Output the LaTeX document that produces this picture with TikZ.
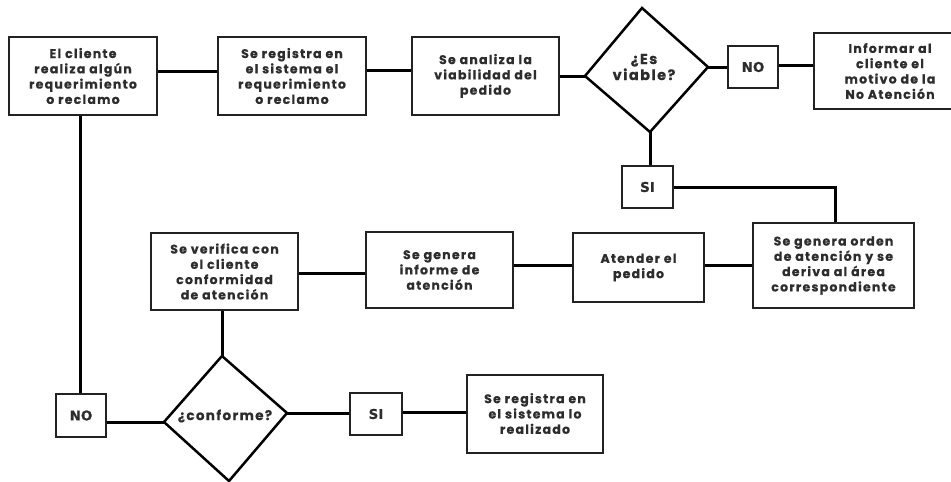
\documentclass[tikz,border=0pt]{standalone}
\usepackage{fontspec}
\newfontfamily\lblfont[LetterSpace=10, BoldFeatures={FakeBold=0.5}]{Poppins}
\newfontfamily\tagfont[BoldFeatures={FakeBold=0.5}]{DejaVu Sans}
\definecolor{ink}{HTML}{222222}
\definecolor{txt}{HTML}{2d2d2d}
\tikzset{
  box/.style={draw=ink, line width=2pt, fill=white, align=center, inner sep=0pt, text=txt,
    font=\lblfont\bfseries\fontsize{12.5}{15.3}\selectfont},
  tagbox/.style={draw=ink, line width=1.6pt, fill=white, inner sep=0pt, text=txt,
    minimum width=50pt, minimum height=42pt, font=\tagfont\bfseries\fontsize{13.5}{15}\selectfont},
  dtext/.style={align=center, inner sep=0pt, text=txt, font=\lblfont\bfseries\fontsize{13.5}{16}\selectfont},
  diab/.style={draw=black, line width=2.5pt, line join=miter},
  conn/.style={draw=black, line width=3pt}
}
\begin{document}
\begin{tikzpicture}[x=1pt,y=-1pt]
\clip (0,0) rectangle (951,482);
\fill[white] (0,0) rectangle (951,482);
% top row
\node[box, minimum width=148pt, minimum height=78pt] (c1) at (83,76) {El cliente\\realiza algún\\requerimiento\\o reclamo};
\node[box, minimum width=148pt, minimum height=78pt] (c2) at (292,76) {Se registra en\\el sistema el\\requerimiento\\o reclamo};
\node[box, minimum width=147pt, minimum height=78pt] (c3) at (485.5,76) {Se analiza la\\viabilidad del\\pedido};
% diamond 1
\coordinate (d1w) at (585,76);
\coordinate (d1n) at (642,8);
\coordinate (d1e) at (708,67);
\coordinate (d1s) at (650,132);
\draw[diab] (d1w) -- (d1n) -- (d1e) -- (d1s) -- cycle;
\node[dtext, font=\lblfont\bfseries\fontsize{14.5}{16}\selectfont] (d1) at (644,67) {¿Es\\viable?};
\node[tagbox] (no1) at (753,67) {NO};
\node[box, minimum width=152pt, minimum height=76pt] (inf) at (890,71) {Informar al\\cliente el\\motivo de la\\No Atención};
\node[tagbox, minimum width=51pt] (si1) at (647.5,187) {SI};
% middle row
\node[box, minimum width=161pt, minimum height=85pt] (orden) at (833.5,265.5) {Se genera orden\\de atención y se\\deriva al área\\correspondiente};
\node[box, minimum width=131pt, minimum height=69pt] (aten) at (638.5,267.5) {Atender el\\pedido};
\node[box, minimum width=147pt, minimum height=76pt] (inform) at (439.5,270) {Se genera\\informe de\\atención};
\node[box, minimum width=147pt, minimum height=77pt] (verif) at (224.5,271.5) {Se verifica con\\el cliente\\conformidad\\de atención};
% bottom row
\coordinate (d2w) at (164,422);
\coordinate (d2n) at (222,356);
\coordinate (d2e) at (287,413);
\coordinate (d2s) at (229,481);
\draw[diab] (d2w) -- (d2n) -- (d2e) -- (d2s) -- cycle;
\node[dtext] (d2) at (225,416) {¿conforme?};
\node[tagbox, minimum height=43pt] (no2) at (81,415.5) {NO};
\node[tagbox, minimum width=52pt] (si2) at (376,414) {SI};
\node[box, minimum width=136pt, minimum height=78pt] (reg) at (535,413.5) {Se registra en\\el sistema lo\\realizado};
% connectors
\draw[conn] ([yshift=5pt]c1.east) -- ([yshift=5pt]c2.west);
\draw[conn] ([yshift=6pt]c2.east) -- ([yshift=6pt]c3.west);
\draw[conn] (c3.east) -- (d1w);
\draw[conn] (d1e) -- (no1.west);
\draw[conn] ([yshift=2pt]no1.east) -- ([yshift=2pt]no1.east -| inf.west);
\draw[conn] (d1s) -- (d1s |- si1.north);
\draw[conn] (si1.east) -| ([xshift=1.5pt]orden.north);
\draw[conn] (orden.west) -- (orden.west -| aten.east);
\draw[conn] ([yshift=2.5pt]aten.west) -- ([yshift=2.5pt]aten.west -| inform.east);
\draw[conn] ([yshift=-3pt]inform.west) -- ([yshift=-3pt]inform.west -| verif.east);
\draw[conn] (d2n |- verif.south) -- (d2n);
\draw[conn] ([xshift=-3pt]c1.south) -- ([xshift=-3pt]c1.south |- no2.north);
\draw[conn] ([yshift=-6.5pt]no2.east) -- (d2w);
\draw[conn] (d2e) -- (d2e -| si2.west);
\draw[conn] ([yshift=2pt]si2.east) -- ([yshift=2pt]si2.east -| reg.west);
\end{tikzpicture}
\end{document}
